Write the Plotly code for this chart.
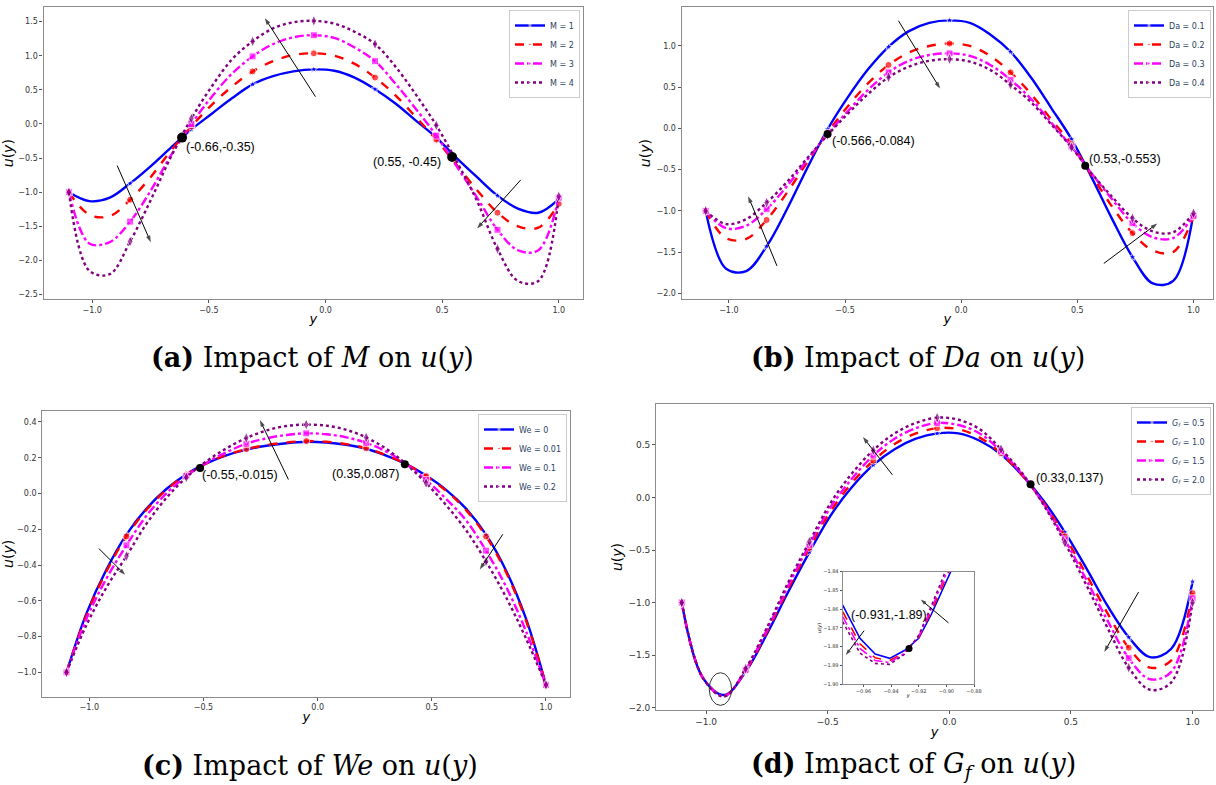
import plotly.graph_objects as go

# ---------------- data ----------------
y_grid = [-1.1, -1.0125, -0.925, -0.8375, -0.75, -0.6625, -0.575, -0.4875, -0.4,
          -0.3125, -0.225, -0.1375, -0.05, 0.0375, 0.125, 0.2125, 0.3, 0.3875,
          0.475, 0.5625, 0.65, 0.7375, 0.825, 0.9125, 1.0]

# (a) impact of M
names_a = ["M = 1", "M = 2", "M = 3", "M = 4"]
u_M1 = [-1.0, -1.13, -1.08, -0.87, -0.62, -0.345, -0.08, 0.15, 0.38, 0.58, 0.70, 0.77, 0.80,
        0.78, 0.68, 0.51, 0.30, 0.05, -0.20, -0.50, -0.78, -1.05, -1.24, -1.30, -1.10]
u_M2 = [-1.0, -1.33, -1.35, -1.11, -0.78, -0.39, -0.036, 0.28, 0.55, 0.77, 0.92, 1.01, 1.035,
        1.0, 0.88, 0.68, 0.42, 0.10, -0.23, -0.60, -0.97, -1.30, -1.50, -1.52, -1.17]
u_M3 = [-1.0, -1.75, -1.73, -1.43, -0.98, -0.46, 0.0, 0.40, 0.74, 0.99, 1.17, 1.27, 1.30,
        1.26, 1.12, 0.92, 0.59, 0.22, -0.17, -0.62, -1.08, -1.55, -1.85, -1.85, -1.08]
u_M4 = [-1.0, -2.15, -2.20, -1.72, -1.12, -0.48, 0.08, 0.55, 0.95, 1.21, 1.40, 1.49, 1.51,
        1.47, 1.35, 1.17, 0.84, 0.43, -0.02, -0.55, -1.13, -1.83, -2.30, -2.30, -1.06]

# (b) impact of Da
names_b = ["Da = 0.1", "Da = 0.2", "Da = 0.3", "Da = 0.4"]
u_Da1 = [-1.0, -1.70, -1.73, -1.43, -0.98, -0.48, -0.01, 0.38, 0.72, 0.99, 1.18, 1.28, 1.31,
         1.28, 1.14, 0.93, 0.62, 0.25, -0.13, -0.60, -1.10, -1.56, -1.88, -1.85, -1.03]
u_Da2 = [-1.0, -1.33, -1.34, -1.11, -0.78, -0.41, -0.05, 0.27, 0.55, 0.77, 0.92, 1.0, 1.03,
         1.0, 0.88, 0.68, 0.42, 0.11, -0.19, -0.57, -0.95, -1.27, -1.48, -1.50, -1.07]
u_Da3 = [-1.0, -1.21, -1.18, -0.98, -0.70, -0.38, -0.07, 0.21, 0.47, 0.68, 0.82, 0.89, 0.91,
         0.88, 0.77, 0.59, 0.36, 0.07, -0.22, -0.55, -0.86, -1.15, -1.32, -1.33, -1.06]
u_Da4 = [-1.0, -1.16, -1.10, -0.90, -0.65, -0.36, -0.08, 0.18, 0.42, 0.62, 0.75, 0.82, 0.84,
         0.81, 0.71, 0.53, 0.32, 0.05, -0.23, -0.55, -0.83, -1.09, -1.25, -1.26, -1.03]

# (c) impact of We
names_c = ["We = 0", "We = 0.01", "We = 0.1", "We = 0.2"]
u_We1 = [-1.0, -0.67, -0.425, -0.23, -0.085, 0.025, 0.108, 0.168, 0.213, 0.245, 0.267, 0.281, 0.289,
         0.285, 0.272, 0.25, 0.212, 0.164, 0.10, 0.02, -0.085, -0.23, -0.43, -0.70, -1.07]
u_We2 = [-1.0, -0.68, -0.435, -0.24, -0.092, 0.02, 0.106, 0.168, 0.215, 0.248, 0.27, 0.285, 0.293,
         0.289, 0.276, 0.253, 0.214, 0.164, 0.097, 0.015, -0.093, -0.24, -0.44, -0.71, -1.07]
u_We3 = [-1.0, -0.70, -0.475, -0.29, -0.125, 0.0, 0.097, 0.172, 0.23, 0.278, 0.308, 0.327, 0.336,
         0.331, 0.314, 0.283, 0.235, 0.164, 0.075, -0.03, -0.15, -0.32, -0.52, -0.77, -1.07]
u_We4 = [-1.0, -0.735, -0.525, -0.35, -0.17, -0.025, 0.09, 0.18, 0.252, 0.31, 0.352, 0.377, 0.385,
         0.379, 0.356, 0.313, 0.25, 0.164, 0.058, -0.065, -0.205, -0.38, -0.58, -0.81, -1.07]

# (d) impact of Gf
names_d = ["<i>G<sub>f</sub></i> = 0.5", "<i>G<sub>f</sub></i> = 1.0",
           "<i>G<sub>f</sub></i> = 1.5", "<i>G<sub>f</sub></i> = 2.0"]
u_G1 = [-1.0, -1.72, -1.88, -1.66, -1.30, -0.90, -0.52, -0.17, 0.10, 0.31, 0.46, 0.56, 0.61,
        0.61, 0.54, 0.41, 0.21, -0.03, -0.33, -0.67, -1.03, -1.33, -1.52, -1.44, -0.80]
u_G2 = [-1.0, -1.72, -1.885, -1.65, -1.28, -0.87, -0.48, -0.13, 0.14, 0.35, 0.51, 0.61, 0.66,
        0.65, 0.57, 0.42, 0.21, -0.05, -0.37, -0.73, -1.10, -1.43, -1.62, -1.55, -0.91]
u_G3 = [-1.0, -1.72, -1.89, -1.64, -1.26, -0.84, -0.45, -0.09, 0.18, 0.40, 0.56, 0.66, 0.71,
        0.69, 0.61, 0.44, 0.22, -0.06, -0.40, -0.78, -1.17, -1.53, -1.73, -1.66, -0.96]
u_G4 = [-1.0, -1.72, -1.895, -1.63, -1.24, -0.81, -0.42, -0.05, 0.23, 0.45, 0.61, 0.71, 0.76,
        0.74, 0.65, 0.46, 0.23, -0.07, -0.43, -0.83, -1.24, -1.62, -1.83, -1.76, -1.0]

# inset of (d)
inset_y = [-0.975, -0.9625, -0.9515, -0.941, -0.93, -0.92, -0.911, -0.9025, -0.895]
inset_G1 = [-1.8578, -1.8756, -1.8840, -1.8863, -1.8820, -1.8756, -1.8630, -1.8495, -1.8370]
inset_G2 = [-1.8614, -1.8785, -1.8860, -1.8875, -1.8830, -1.8750, -1.8615, -1.8475, -1.8345]
inset_G3 = [-1.8640, -1.8810, -1.8875, -1.8885, -1.8835, -1.8745, -1.8600, -1.8455, -1.8320]
inset_G4 = [-1.8667, -1.8835, -1.8890, -1.8895, -1.8840, -1.8740, -1.8585, -1.8435, -1.8295]

# marked intersection points and their labels
pts_a = [(-0.615, -0.20, "(-0.66,-0.35)"), (0.543, -0.483, "(0.55, -0.45)")]
pts_b = [(-0.575, -0.069, "(-0.566,-0.084)"), (0.534, -0.454, "(0.53,-0.553)")]
pts_c = [(-0.515, 0.143, "(-0.55,-0.015)"), (0.382, 0.164, "(0.35,0.087)")]
pts_d = [(0.334, 0.127, "(0.33,0.137)")]
pts_inset = [(-0.927, -1.881, "(-0.931,-1.89)")]

# trend arrows (tail -> head) in data units
arrows_a = [((-0.043, 0.40), (-0.26, 1.55)), ((-0.893, -0.61), (-0.749, -1.733)),
            ((0.837, -0.82), (0.650, -1.53))]
arrows_b = [((-0.27, 1.306), (-0.091, 0.485)), ((-0.793, -1.667), (-0.917, -0.822)),
            ((0.614, -1.638), (0.844, -1.153))]
arrows_c = [((-0.128, 0.078), (-0.253, 0.41)), ((-0.958, -0.308), (-0.843, -0.455)),
            ((0.811, -0.228), (0.71, -0.425))]
arrows_d = [((-0.234, 0.216), (-0.355, 0.575)), ((0.778, -0.90), (0.637, -1.471))]
arrows_inset = [((-0.9595, -1.8715), (-0.9727, -1.8845)), ((-0.8985, -1.8673), (-0.9185, -1.8549))]

captions = ["<b>(a)</b> Impact of <i>M</i> on <i>u</i>(<i>y</i>)",
            "<b>(b)</b> Impact of <i>Da</i> on <i>u</i>(<i>y</i>)",
            "<b>(c)</b> Impact of <i>We</i> on <i>u</i>(<i>y</i>)",
            "<b>(d)</b> Impact of <i>G<sub>f</sub></i> on <i>u</i>(<i>y</i>)"]

# ---------------- figure ----------------
W, H = 1216, 785
def px(x):
    return x / W
def py(y):
    return 1 - y / H

colors = ["#0000ff", "#ff0000", "#ff00ff", "#800080"]
dashes = ["solid", "dash", "dashdot", "dot"]
symbols = ["star", "circle", "square", "diamond-tall"]
msizes = [6, 7, 7, 8]

fig = go.Figure()

def add_arrow(tail, head, xa, ya, size=7):
    fig.add_trace(go.Scatter(
        x=[tail[0], head[0]], y=[tail[1], head[1]], mode="lines+markers",
        xaxis=xa, yaxis=ya, showlegend=False, hoverinfo="skip",
        line=dict(color="black", width=1),
        marker=dict(symbol=["circle", "arrow"], size=[0, size], color="black",
                    angleref="previous", line=dict(width=0))))

panels = [
    dict(ax="", series=[u_M1, u_M2, u_M3, u_M4], names=names_a, legend="legend",
         pts=pts_a, arrows=arrows_a, dot=10),
    dict(ax="2", series=[u_Da1, u_Da2, u_Da3, u_Da4], names=names_b, legend="legend2",
         pts=pts_b, arrows=arrows_b, dot=8),
    dict(ax="3", series=[u_We1, u_We2, u_We3, u_We4], names=names_c, legend="legend3",
         pts=pts_c, arrows=arrows_c, dot=8),
    dict(ax="4", series=[u_G1, u_G2, u_G3, u_G4], names=names_d, legend="legend4",
         pts=pts_d, arrows=arrows_d, dot=8),
]

annotations = []
for p in panels:
    for i, (vals, nm) in enumerate(zip(p["series"], p["names"])):
        fig.add_trace(go.Scatter(
            x=y_grid, y=vals, mode="lines+markers", name=nm,
            xaxis="x" + p["ax"], yaxis="y" + p["ax"], legend=p["legend"],
            line=dict(color=colors[i], width=2.4, dash=dashes[i], shape="spline", smoothing=1.0),
            marker=dict(color=colors[i], symbol=symbols[i],
                        size=[msizes[i] if k % 3 == 0 else 0 for k in range(len(y_grid))]),
            hoverinfo="skip"))
    fig.add_trace(go.Scatter(
        x=[q[0] for q in p["pts"]], y=[q[1] for q in p["pts"]], mode="markers",
        xaxis="x" + p["ax"], yaxis="y" + p["ax"], showlegend=False,
        marker=dict(color="black", size=p["dot"]), hoverinfo="skip"))
    for tail, head in p["arrows"]:
        add_arrow(tail, head, "x" + p["ax"], "y" + p["ax"])

# inset traces
for i, vals in enumerate([inset_G1, inset_G2, inset_G3, inset_G4]):
    fig.add_trace(go.Scatter(
        x=inset_y, y=vals, mode="lines", xaxis="x5", yaxis="y5", showlegend=False,
        line=dict(color=colors[i], width=1.6, dash=dashes[i]), hoverinfo="skip"))
fig.add_trace(go.Scatter(
    x=[q[0] for q in pts_inset], y=[q[1] for q in pts_inset], mode="markers",
    xaxis="x5", yaxis="y5", showlegend=False, marker=dict(color="black", size=7),
    hoverinfo="skip"))
for tail, head in arrows_inset:
    add_arrow(tail, head, "x5", "y5", size=6)

lblfont = dict(family="Liberation Sans Narrow, Liberation Sans, sans-serif", size=12.5, color="black")
# point labels
for (x, y, t) in pts_a[:1]:
    annotations.append(dict(x=x, y=y, xref="x", yref="y", text=t, showarrow=False,
                            xanchor="left", yanchor="top", xshift=2, yshift=0, font=lblfont))
for (x, y, t) in pts_a[1:]:
    annotations.append(dict(x=x, y=y, xref="x", yref="y", text=t, showarrow=False,
                            xanchor="right", yanchor="middle", xshift=-9, yshift=-5, font=lblfont))
for (x, y, t) in pts_b[:1]:
    annotations.append(dict(x=x, y=y, xref="x2", yref="y2", text=t, showarrow=False,
                            xanchor="left", yanchor="middle", xshift=2, yshift=-7, font=lblfont))
for (x, y, t) in pts_b[1:]:
    annotations.append(dict(x=x, y=y, xref="x2", yref="y2", text=t, showarrow=False,
                            xanchor="left", yanchor="middle", xshift=2, yshift=7, font=lblfont))
for (x, y, t) in pts_c[:1]:
    annotations.append(dict(x=x, y=y, xref="x3", yref="y3", text=t, showarrow=False,
                            xanchor="left", yanchor="middle", xshift=0, yshift=-7, font=lblfont))
for (x, y, t) in pts_c[1:]:
    annotations.append(dict(x=x, y=y, xref="x3", yref="y3", text=t, showarrow=False,
                            xanchor="right", yanchor="middle", xshift=-4, yshift=-10, font=lblfont))
for (x, y, t) in pts_d:
    annotations.append(dict(x=x, y=y, xref="x4", yref="y4", text=t, showarrow=False,
                            xanchor="left", yanchor="middle", xshift=3, yshift=6, font=lblfont))
for (x, y, t) in pts_inset:
    annotations.append(dict(x=-0.9415, y=-1.8632, xref="x5", yref="y5", text=t, showarrow=False,
                            xanchor="center", yanchor="middle", font=lblfont))

# captions
cap_pos = [(312, 357), (918, 357), (310, 765), (913, 765)]
for (cx, cy), t in zip(cap_pos, captions):
    annotations.append(dict(x=px(cx), y=py(cy), xref="paper", yref="paper", text=t,
                            showarrow=False, xanchor="center", yanchor="middle",
                            font=dict(family="DejaVu Serif, serif", size=27, color="black")))

# ---------------- axes ----------------
def axis_style(rng, dtick, fmt, domain, anchor, title, tsize, standoff, size=8):
    return dict(range=rng, dtick=dtick, tickformat=fmt, domain=domain, anchor=anchor,
                showline=True, mirror=True, linecolor="#8c8c8c", linewidth=1.3,
                ticks="outside", ticklen=3, tickwidth=1, tickcolor="#555",
                tickfont=dict(family="DejaVu Sans", size=size, color="#333"),
                title=dict(text=title, font=dict(family="DejaVu Sans", size=tsize, color="black"),
                           standoff=standoff),
                showgrid=False, zeroline=False, automargin=False)

XT = "<i>y</i>"
YT = "<i>u</i>(<i>y</i>)"
frames = {
    "": dict(x=(43.5, 583), y=(7.3, 299), xr=[-1.209, 1.104], yr=[-2.564, 1.709], ydt=0.5, f=8),
    "2": dict(x=(681.7, 1213), y=(7.3, 299), xr=[-1.203, 1.084], yr=[-2.069, 1.469], ydt=0.5, f=8),
    "3": dict(x=(42.3, 570.4), y=(411, 696.7), xr=[-1.206, 1.107], yr=[-1.136, 0.461], ydt=0.2, f=8),
    "4": dict(x=(656.2, 1213), y=(404, 710), xr=[-1.205, 1.084], yr=[-2.023, 0.890], ydt=0.5, f=9),
}
layout_axes = {}
for k, fr in frames.items():
    xd = [px(fr["x"][0]), px(fr["x"][1])]
    yd = [py(fr["y"][1]), py(fr["y"][0])]
    layout_axes["xaxis" + k] = axis_style(fr["xr"], 0.5, ".1f", xd, "y" + k, XT, 13, 0, fr["f"])
    layout_axes["yaxis" + k] = axis_style(fr["yr"], fr["ydt"], ".1f", yd, "x" + k, YT, 14, 2, fr["f"])

layout_axes["xaxis5"] = axis_style([-0.975, -0.88], 0.02, ".2f", [px(842.7), px(974)], "y5",
                                   XT, 5, 0, 5)
layout_axes["yaxis5"] = axis_style([-1.90, -1.84], 0.01, ".2f", [py(684), py(571.7)], "x5",
                                   YT, 5, 1, 5)
layout_axes["xaxis5"]["ticklen"] = 2
layout_axes["yaxis5"]["ticklen"] = 2

def legend_style(xr, yt):
    return dict(x=px(xr), y=py(yt), xanchor="right", yanchor="top", bgcolor="white",
                bordercolor="#cccccc", borderwidth=1, font=dict(family="DejaVu Sans", size=8),
                itemwidth=30, tracegroupgap=0)

fig.update_layout(
    width=W, height=H, margin=dict(l=0, r=0, t=0, b=0),
    paper_bgcolor="white", plot_bgcolor="white", showlegend=True,
    legend=legend_style(580, 10), legend2=legend_style(1211, 10),
    legend3=legend_style(567, 414), legend4=legend_style(1211, 407),
    annotations=annotations,
    shapes=[dict(type="circle", xref="x4", yref="y4", x0=-0.987, x1=-0.895, y0=-1.979, y1=-1.668,
                 line=dict(color="#333", width=1))],
    **layout_axes)

fig.write_html("out.html")
